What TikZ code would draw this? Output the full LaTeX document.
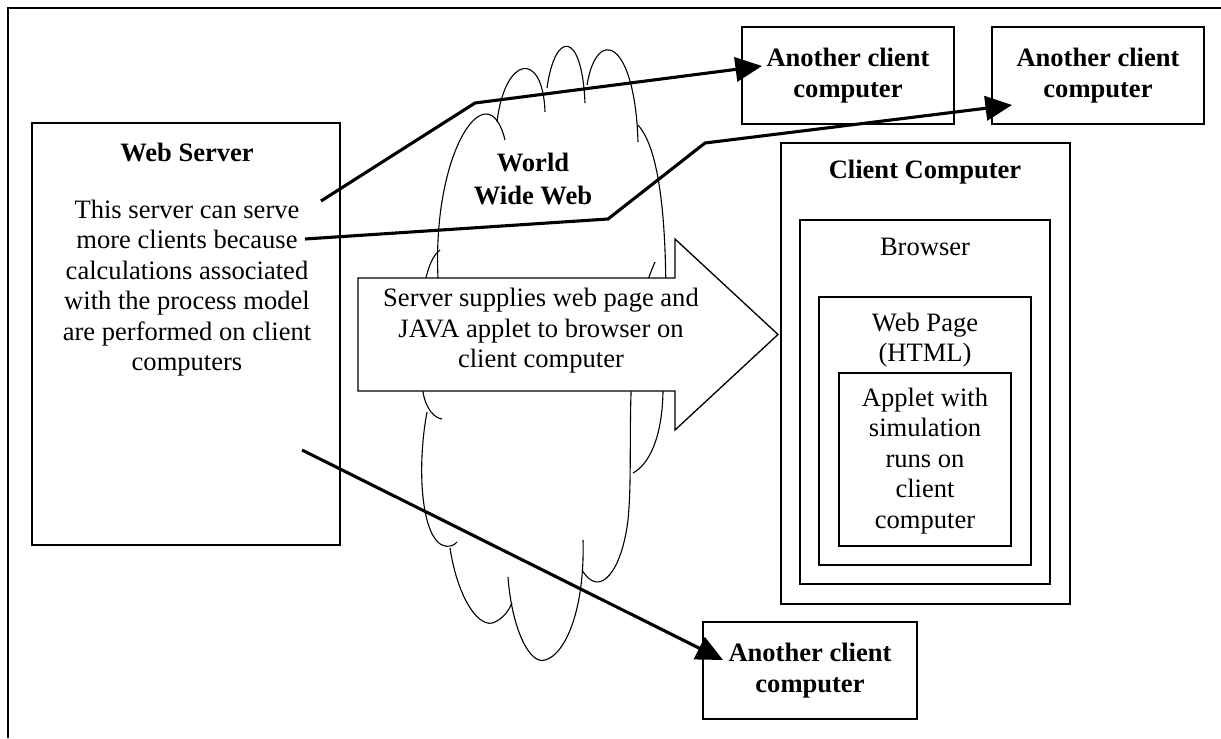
\documentclass[tikz,border=0pt]{standalone}
\usepackage{fontspec}
\setmainfont{Liberation Serif}
\usetikzlibrary{arrows.meta,calc}

\begin{document}
\begin{tikzpicture}[y=0.452pt, x=0.452pt, yscale=-1, inner sep=0pt, outer sep=0pt,
	box/.style={rectangle, draw=black, line width=1pt, align=center, font=\fontsize{12}{13.8}\selectfont\bfseries},
	thinbox/.style={rectangle, draw=black, line width=0.5pt},
	txt/.style={align=center, font=\fontsize{12}{13.8}\selectfont},
	boldtxt/.style={align=center, font=\fontsize{12}{13.8}\selectfont\bfseries},
	cloudline/.style={line width=0.5pt},
	link/.style={line width=1.4pt, -{Triangle[length=12pt, width=11pt]}}]
\useasboundingbox (0,0) rectangle (1221,738);
\draw[line width=0.9pt] (8,738) -- (8,8) -- (1221,8);

% server
\node[box, minimum width=139.2pt, minimum height=190.7pt] (server) at (186,334) {};
\node[boldtxt] (servertitle) at (187,152) {Web Server};
\node[txt] (servertext) at (187,288) {This server can serve\\more clients because\\calculations associated\\with the process model\\are performed on client\\computers};

% cloud
\draw[cloudline] (438,278) .. controls (432,150) and (488,70) .. (505,140);
\draw[cloudline] (497,122) .. controls (505,55) and (543,50) .. (545,112);
\draw[cloudline] (547,88) .. controls (555,30) and (582,30) .. (585,103);
\draw[cloudline] (587,85) .. controls (597,25) and (635,40) .. (638,142);
\draw[cloudline] (638,125) .. controls (670,160) and (668,300) .. (663,392) .. controls (662,440) and (648,465) .. (633,473);
\draw[cloudline] (655,262) .. controls (620,340) and (635,450) .. (628,520) .. controls (622,570) and (600,600) .. (582,570);
\draw[cloudline] (440,250) .. controls (420,265) and (418,330) .. (423,392) .. controls (426,410) and (435,418) .. (442,419);
\draw[cloudline] (427,412) .. controls (418,460) and (420,520) .. (436,540) .. controls (442,548) and (452,548) .. (457,542);
\draw[cloudline] (450,548) .. controls (458,600) and (480,630) .. (495,622) .. controls (503,618) and (508,612) .. (512,603);
\draw[cloudline] (508,577) .. controls (512,630) and (530,665) .. (545,660) .. controls (565,655) and (585,610) .. (583,540);
\node[align=center, font=\fontsize{12}{15}\selectfont\bfseries] (www) at (533,179) {World\\Wide Web};

% supply arrow
\draw[line width=0.6pt, fill=white] (358,278) -- (675,278) -- (675,239) -- (778,334.5) -- (675,430) -- (675,391) -- (358,391) -- cycle;
\node[txt] (supply) at (541,331) {Server supplies web page and\\JAVA applet to browser on\\client computer};

% client computer
\node[box, minimum width=130.6pt, minimum height=208.4pt] (client) at (925.5,373.5) {};
\node[boldtxt] (clienttitle) at (925,172) {Client Computer};
\node[thinbox, minimum width=113pt, minimum height=164.5pt] (browser) at (925,402) {};
\node[txt] (browsertitle) at (925,247) {Browser};
\node[thinbox, minimum width=95.8pt, minimum height=121.1pt] (page) at (925,431) {};
\node[txt] (pagetitle) at (925,340) {Web Page\\(HTML)};
\node[thinbox, minimum width=77.7pt, minimum height=78.2pt] (applet) at (925,459.5) {};
\node[txt] (applettext) at (925,461) {Applet with\\simulation\\runs on\\client\\computer};

% other clients
\node[box, minimum width=95.8pt, minimum height=43.8pt] (cl1) at (848,75.5) {Another client\\computer};
\node[box, minimum width=95.8pt, minimum height=43.8pt] (cl2) at (1098,75.5) {Another client\\computer};
\node[box, minimum width=96.7pt, minimum height=43.8pt] (cl3) at (810,670.5) {Another client\\computer};

\coordinate (s1) at (321,201);
\coordinate (k1) at (475,103);
\coordinate (s2) at (305,239);
\coordinate (k2a) at (608,219);
\coordinate (k2b) at (705,143);
\coordinate (s3) at (302,450);
\draw[link] (s1) -- (k1) -- ($(cl1.west)+(20,-9.5)$);
\draw[link] (s2) -- (k2a) -- (k2b) -- ($(cl2.west)+(20,29.5)$);
\draw[link] (s3) -- ($(cl3.west)+(20,-10.5)$);
\end{tikzpicture}
\end{document}
